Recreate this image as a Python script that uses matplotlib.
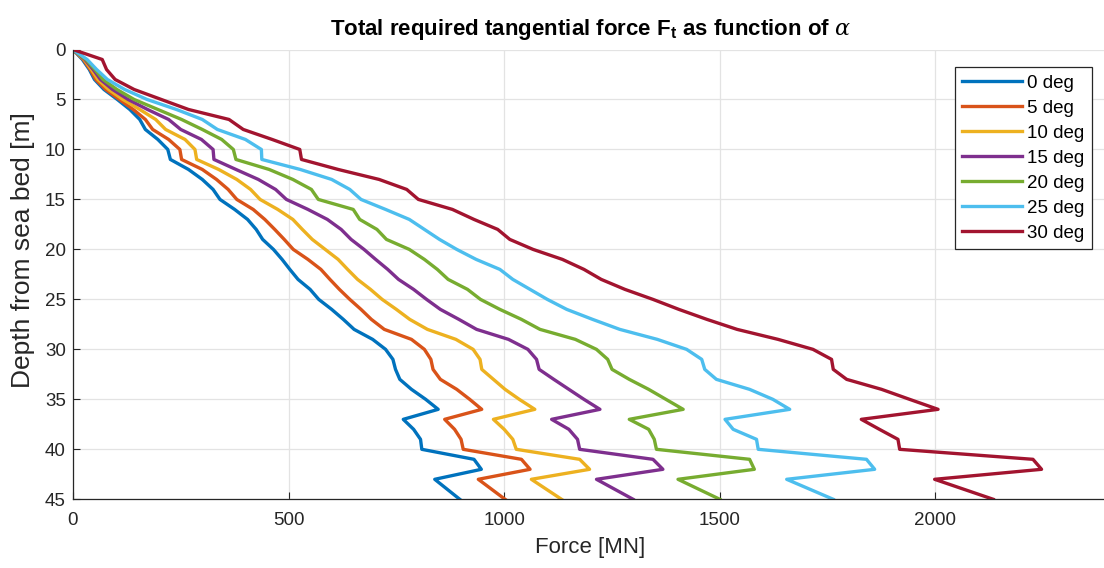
import matplotlib
matplotlib.use("Agg")
import matplotlib.pyplot as plt

plt.rcParams['font.family'] = ['Liberation Sans', 'DejaVu Sans']
plt.rcParams['mathtext.fontset'] = 'custom'
plt.rcParams['mathtext.rm'] = 'Liberation Sans'
plt.rcParams['mathtext.bf'] = 'Liberation Sans:bold'
plt.rcParams['mathtext.it'] = 'DejaVu Serif:italic'

depth = [0, 1, 2, 3, 4, 5, 6, 7, 8, 9, 10, 11, 12, 13, 14, 15, 16, 17, 18, 19,
         20, 21, 22, 23, 24, 25, 26, 27, 28, 29, 30, 31, 32, 33, 34, 35, 36, 37,
         38, 39, 40, 41, 42, 43, 45]

deg0 = [0, 22, 38, 50, 72, 103, 132, 155, 168, 197, 220, 226, 268, 300, 325, 341, 375, 405, 425, 440,
        465, 485, 503, 522, 550, 570, 600, 627, 652, 695, 725, 742, 748, 758, 785, 818, 847, 766,
        790, 806, 809, 930, 947, 839, 897]
deg5 = [0, 24, 40, 53, 76, 108, 140, 168, 185, 222, 248, 252, 300, 333, 360, 380, 418, 445, 468, 490,
        511, 545, 575, 596, 618, 642, 668, 692, 722, 785, 815, 830, 835, 852, 890, 920, 948, 862,
        885, 900, 905, 1040, 1060, 940, 1002]
deg10 = [0, 26, 43, 58, 83, 116, 155, 192, 215, 260, 283, 287, 338, 380, 412, 434, 475, 510, 532, 555,
         585, 615, 637, 660, 690, 717, 750, 781, 822, 888, 928, 944, 948, 975, 1002, 1035, 1071, 975,
         1000, 1020, 1028, 1175, 1198, 1063, 1133]
deg15 = [0, 28, 47, 64, 92, 128, 173, 222, 250, 298, 325, 327, 378, 430, 470, 495, 545, 590, 622, 645,
         675, 702, 730, 755, 790, 820, 852, 895, 936, 1010, 1055, 1075, 1081, 1115, 1150, 1185, 1222, 1110,
         1150, 1170, 1175, 1345, 1368, 1214, 1299]
deg20 = [0, 30, 51, 70, 102, 142, 197, 252, 300, 345, 372, 378, 455, 510, 553, 569, 650, 665, 705, 727,
         780, 815, 845, 870, 915, 945, 990, 1040, 1083, 1165, 1214, 1240, 1250, 1290, 1335, 1375, 1415, 1290,
         1335, 1348, 1353, 1569, 1580, 1403, 1500]
deg25 = [0, 33, 55, 80, 120, 172, 240, 300, 335, 400, 437, 438, 527, 600, 642, 668, 725, 780, 815, 850,
         890, 935, 990, 1020, 1060, 1100, 1145, 1205, 1268, 1355, 1423, 1458, 1465, 1492, 1569, 1623, 1662, 1512,
         1531, 1585, 1589, 1840, 1859, 1655, 1763]
deg30 = [0, 68, 78, 98, 142, 205, 268, 362, 395, 462, 526, 530, 615, 710, 774, 801, 880, 930, 985, 1013,
         1067, 1135, 1185, 1225, 1280, 1345, 1405, 1470, 1540, 1635, 1716, 1759, 1763, 1794, 1875, 1940, 2006, 1828,
         1870, 1913, 1917, 2226, 2246, 1998, 2134]

series = [deg0, deg5, deg10, deg15, deg20, deg25, deg30]
labels = ['0 deg', '5 deg', '10 deg', '15 deg', '20 deg', '25 deg', '30 deg']
colors = ['#0072BD', '#D95319', '#EDB120', '#7E2F8E', '#77AC30', '#4DBEEE', '#A2142F']

xticks = [0, 500, 1000, 1500, 2000]
yticks = [0, 5, 10, 15, 20, 25, 30, 35, 40, 45]

W, H = 1104, 568
fig = plt.figure(figsize=(W / 100, H / 100), dpi=100)
ax = fig.add_axes([72.9 / W, (H - 499.3) / H, (1108 - 72.9) / W, (499.3 - 49.5) / H])

for vals, lab, col in zip(series, labels, colors):
    ax.plot(vals, depth, color=col, lw=2.4, label=lab)

ax.set_xlim(0, 2400)
ax.set_ylim(45, 0)
ax.set_xticks(xticks)
ax.set_yticks(yticks)
ax.grid(True, color='#e3e3e3', lw=0.9)
ax.set_axisbelow(True)
for s in ['top', 'right']:
    ax.spines[s].set_visible(False)
for s in ['left', 'bottom']:
    ax.spines[s].set_color('#262626')
    ax.spines[s].set_linewidth(0.9)
ax.tick_params(direction='in', length=5, colors='#262626', labelsize=13.5)
ax.tick_params(axis='x', pad=9)
ax.tick_params(axis='y', pad=5)

ax.set_xlabel('Force [MN]', fontsize=16, color='#262626', labelpad=6)
ax.set_ylabel('Depth from sea bed [m]', fontsize=19, color='#262626', labelpad=6)
ax.yaxis.set_label_coords(-0.037, 0.555)
fig.text(590 / W, 1 - 29 / H, r'Total required tangential force F$_\mathbf{t}$ as function of $\alpha$',
         ha='center', va='center', fontsize=16, fontweight='bold', color='black')

leg = ax.legend(loc='upper right', bbox_to_anchor=(1092 / W, 1 - 67 / H), bbox_transform=fig.transFigure,
                borderaxespad=0, fancybox=False, fontsize=13.5, handlelength=3.2, handletextpad=0.27,
                labelspacing=0.42, borderpad=0.4, framealpha=1)
leg.get_frame().set_edgecolor('#262626')
leg.get_frame().set_linewidth(0.9)

fig.savefig('out.png', dpi=100)
